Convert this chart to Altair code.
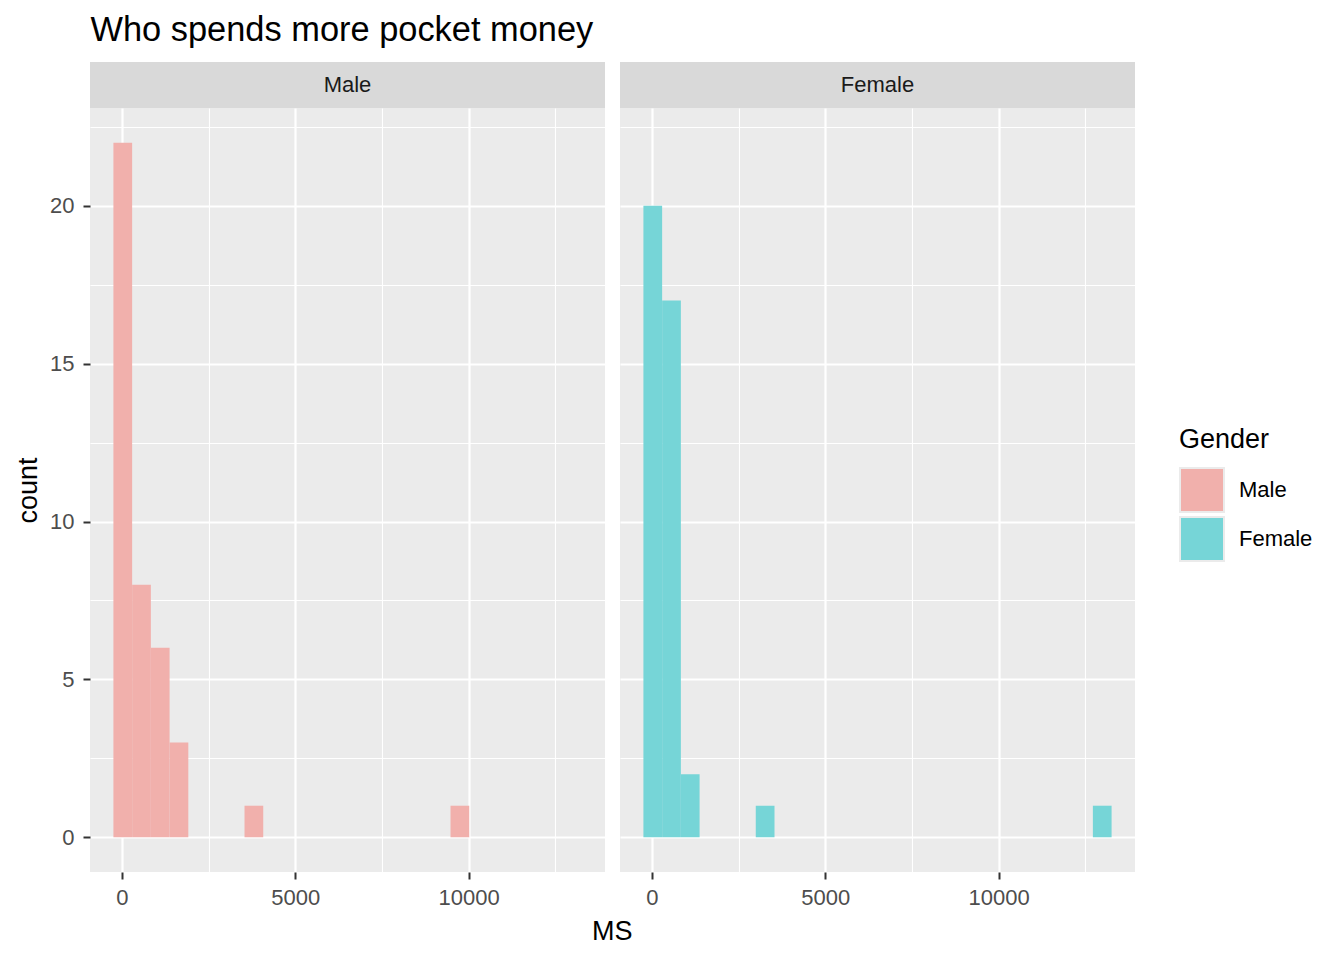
import altair as alt
import pandas as pd

GENDERS = ["Male", "Female"]
COLORS = ["#F1B0AC", "#76D5D7"]

BIN_ORIGIN = -245
BIN_WIDTH = 540
male_bins = [0, 1, 2, 3, 7, 18]
male_counts = [22, 8, 6, 3, 1, 1]
female_bins = [0, 1, 2, 6, 24]
female_counts = [20, 17, 2, 1, 1]

X_TICKS = [0, 5000, 10000]
X_MINOR = [2500, 7500, 12500]
Y_TICKS = [0, 5, 10, 15, 20]
Y_MINOR = [2.5, 7.5, 12.5, 17.5, 22.5]
X_DOMAIN = [-920, 13930]
Y_DOMAIN = [-1.1, 23.1]

W, H = 515, 764
FONT = "Liberation Sans"


def hist_df(gender, bins, counts):
    return pd.DataFrame({
        "Gender": [gender] * len(bins),
        "lo": [BIN_ORIGIN + b * BIN_WIDTH for b in bins],
        "hi": [BIN_ORIGIN + (b + 1) * BIN_WIDTH for b in bins],
        "count": counts,
        "zero": [0] * len(bins),
    })


def cond(test, a, b):
    return {"condition": {"test": test, "value": a}, "value": b}


legend = alt.Legend(
    title="Gender", orient="none", legendX=1089, legendY=319,
    titleFont=FONT, titleFontSize=27, titleFontWeight="normal", titleColor="black",
    titlePadding=13, labelFont=FONT, labelFontSize=22, labelColor="black",
    labelOffset=14, symbolType="square", symbolSize=1936,
    symbolStrokeColor="#EBEBEB", symbolStrokeWidth=2, rowPadding=-6,
)


def panel(gender, bins, counts, show_y):
    df = hist_df(gender, bins, counts)
    xaxis = alt.Axis(
        values=sorted(X_TICKS + X_MINOR), format="d", title=None,
        labelExpr="datum.value % 5000 === 0 ? datum.label : ''",
        labelOverlap=False, labelFlush=False,
        labelFont=FONT, labelFontSize=22, labelColor="#4D4D4D", labelPadding=8,
        domain=False, tickColor="#333333", tickSize=7, tickWidth=2,
        tickOpacity=cond("datum.value % 5000 === 0", 1, 0),
        grid=True, gridColor="white",
        gridWidth=cond("datum.value % 5000 === 0", 2.2, 1.1),
    )
    if show_y:
        yaxis = alt.Axis(
            values=sorted(Y_TICKS + Y_MINOR), title="count",
            labelExpr="datum.value % 5 === 0 ? datum.label : ''",
            labelOverlap=False, labelFlush=False,
            labelFont=FONT, labelFontSize=22, labelColor="#4D4D4D", labelPadding=9,
            titleFont=FONT, titleFontSize=27, titleFontWeight="normal",
            titleColor="black", titlePadding=7,
            domain=False, tickColor="#333333", tickSize=7, tickWidth=2,
            tickOpacity=cond("datum.value % 5 === 0", 1, 0),
            grid=True, gridColor="white",
            gridWidth=cond("datum.value % 5 === 0", 2.2, 1.1),
        )
    else:
        yaxis = alt.Axis(
            values=sorted(Y_TICKS + Y_MINOR), title=None, labels=False,
            ticks=False, domain=False, grid=True, gridColor="white",
            gridWidth=cond("datum.value % 5 === 0", 2.2, 1.1),
        )
    bars = alt.Chart(df).mark_rect().encode(
        x=alt.X("lo:Q", scale=alt.Scale(domain=X_DOMAIN, nice=False, zero=False), axis=xaxis),
        x2="hi:Q",
        y=alt.Y("count:Q", scale=alt.Scale(domain=Y_DOMAIN, nice=False, zero=False), axis=yaxis),
        y2="zero:Q",
        color=alt.Color("Gender:N", scale=alt.Scale(domain=GENDERS, range=COLORS), legend=legend),
    )
    sdf = pd.DataFrame({"label": [gender]})
    strip = alt.Chart(sdf).mark_rect(color="#D9D9D9").encode(
        x=alt.value(0), x2=alt.value(W), y=alt.value(-46), y2=alt.value(0)
    )
    stext = alt.Chart(sdf).mark_text(
        font=FONT, fontSize=22, color="#1A1A1A", baseline="middle", align="center"
    ).encode(x=alt.value(W / 2), y=alt.value(-23), text="label:N")
    return alt.layer(bars, strip, stext).properties(width=W, height=H)


left = panel("Male", male_bins, male_counts, True)
right = panel("Female", female_bins, female_counts, False)

hc = alt.hconcat(left, right, spacing=15).properties(
    title=alt.TitleParams("MS", orient="bottom", anchor="middle", font=FONT,
                          fontSize=27, fontWeight="normal", color="black",
                          dx=37.5, offset=11)
).resolve_scale(color="shared").resolve_legend(color="shared")

chart = alt.vconcat(hc).properties(
    title=alt.TitleParams("Who spends more pocket money", anchor="start", font=FONT,
                          fontSize=34.4, fontWeight="normal", color="black",
                          dx=76, offset=14),
    padding={"top": 4, "left": 6, "right": 5, "bottom": 5},
).configure_view(fill="#EBEBEB", stroke=None).configure_concat(spacing=0)

chart.save("out.html", embed_options={"renderer": "svg", "actions": False})
